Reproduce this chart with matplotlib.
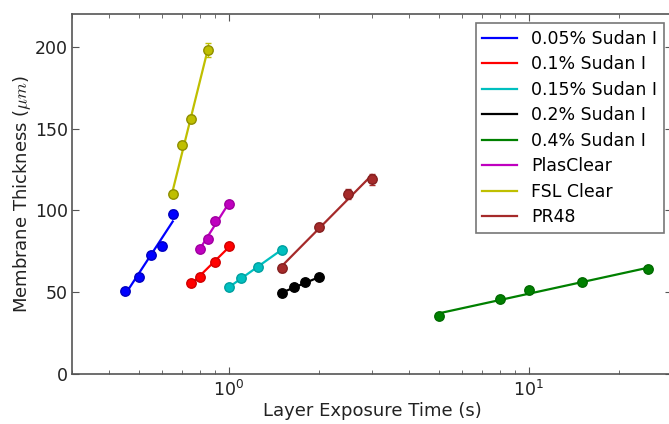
import numpy as np
import matplotlib
matplotlib.use("Agg")
import matplotlib.pyplot as plt

labels = ["0.05% Sudan I", "0.1% Sudan I", "0.15% Sudan I", "0.2% Sudan I",
          "0.4% Sudan I", "PlasClear", "FSL Clear", "PR48"]
colors = ["#0000ff", "#ff0000", "#00bfbf", "#000000", "#008000",
          "#bf00bf", "#bfbf00", "#a52a2a"]
edge_colors = ["#0000c0", "#d00000", "#00a0a0", "#000000", "#006a00",
               "#a000a0", "#8f8f00", "#852020"]

x_005 = [0.45, 0.5, 0.55, 0.6, 0.65]
y_005 = [51, 59, 73, 78, 98]
e_005 = [1.5, 1.5, 1.5, 2, 2.5]

x_01 = [0.75, 0.8, 0.9, 1.0]
y_01 = [55.5, 59.5, 68.5, 78]
e_01 = [1.5, 1.5, 1.5, 1.5]

x_015 = [1.0, 1.1, 1.25, 1.5]
y_015 = [53, 58.5, 65.5, 76]
e_015 = [1.5, 1.5, 1.5, 1.5]

x_02 = [1.5, 1.65, 1.8, 2.0]
y_02 = [49.5, 53, 56, 59]
e_02 = [1, 1, 1, 1]

x_04 = [5, 8, 10, 15, 25]
y_04 = [35.5, 45.7, 51.2, 56, 64]
e_04 = [1, 1, 1, 1, 1]

x_plas = [0.8, 0.85, 0.9, 1.0]
y_plas = [76.5, 82.5, 93.3, 103.7]
e_plas = [1.5, 1.5, 1.5, 1.5]

x_fsl = [0.65, 0.7, 0.75, 0.85]
y_fsl = [110, 140, 156, 198]
e_fsl = [2, 2, 2, 4]

x_pr48 = [1.5, 2.0, 2.5, 3.0]
y_pr48 = [64.5, 90, 110, 119]
e_pr48 = [2, 2, 3, 3.5]

series = [(x_005, y_005, e_005), (x_01, y_01, e_01), (x_015, y_015, e_015),
          (x_02, y_02, e_02), (x_04, y_04, e_04), (x_plas, y_plas, e_plas),
          (x_fsl, y_fsl, e_fsl), (x_pr48, y_pr48, e_pr48)]

yticks = [0, 50, 100, 150, 200]

plt.rcParams['font.family'] = ['DejaVu Sans']
plt.rcParams['mathtext.fontset'] = 'cm'

fig = plt.figure(figsize=(6.69, 4.24), dpi=100)
ax = fig.add_axes([72 / 669, 50 / 424, 600 / 669, 360 / 424])

for (xs, ys, es), c, ec, lab in zip(series, colors, edge_colors, labels):
    xs = np.array(xs, dtype=float)
    ys = np.array(ys, dtype=float)
    coef = np.polyfit(np.log10(xs), ys, 1)
    xf = np.logspace(np.log10(xs.min()), np.log10(xs.max()), 50)
    ax.plot(xf, np.polyval(coef, np.log10(xf)), color=c, lw=1.6, label=lab, zorder=2)
    ax.errorbar(xs, ys, yerr=es, fmt='o', color=c, ecolor=c, markersize=6.8,
                markerfacecolor=c, markeredgecolor=ec, markeredgewidth=1,
                capsize=2, elinewidth=1, zorder=3)

ax.set_xscale('log')
ax.set_xlim(0.3, 30)
ax.set_ylim(0, 220)
ax.set_yticks(yticks)
ax.tick_params(axis='both', which='both', direction='in', top=True, right=True,
               labelsize=12.5, colors='#555555', labelcolor='#222222')
ax.tick_params(axis='both', which='major', length=5)
ax.tick_params(axis='both', which='minor', length=3)
ax.tick_params(axis='y', which='major', pad=3)
ax.tick_params(axis='x', which='major', pad=4)
for s in ax.spines.values():
    s.set_color('#555555')
    s.set_linewidth(1.2)

ax.set_xlabel("Layer Exposure Time (s)", fontsize=13, color='#222222', labelpad=2)
ax.set_ylabel(r"Membrane Thickness ($\mu m$)", fontsize=13, color='#222222', labelpad=1)

leg = ax.legend(loc='upper right', fontsize=12.5, frameon=True, fancybox=False,
                handlelength=2.0, labelspacing=0.43, borderpad=0.4, borderaxespad=0,
                bbox_to_anchor=(664 / 669, 1 - 23 / 424), bbox_transform=fig.transFigure)
leg.get_frame().set_edgecolor('#555555')
leg.get_frame().set_linewidth(1.2)

fig.savefig("out.png", dpi=100)
